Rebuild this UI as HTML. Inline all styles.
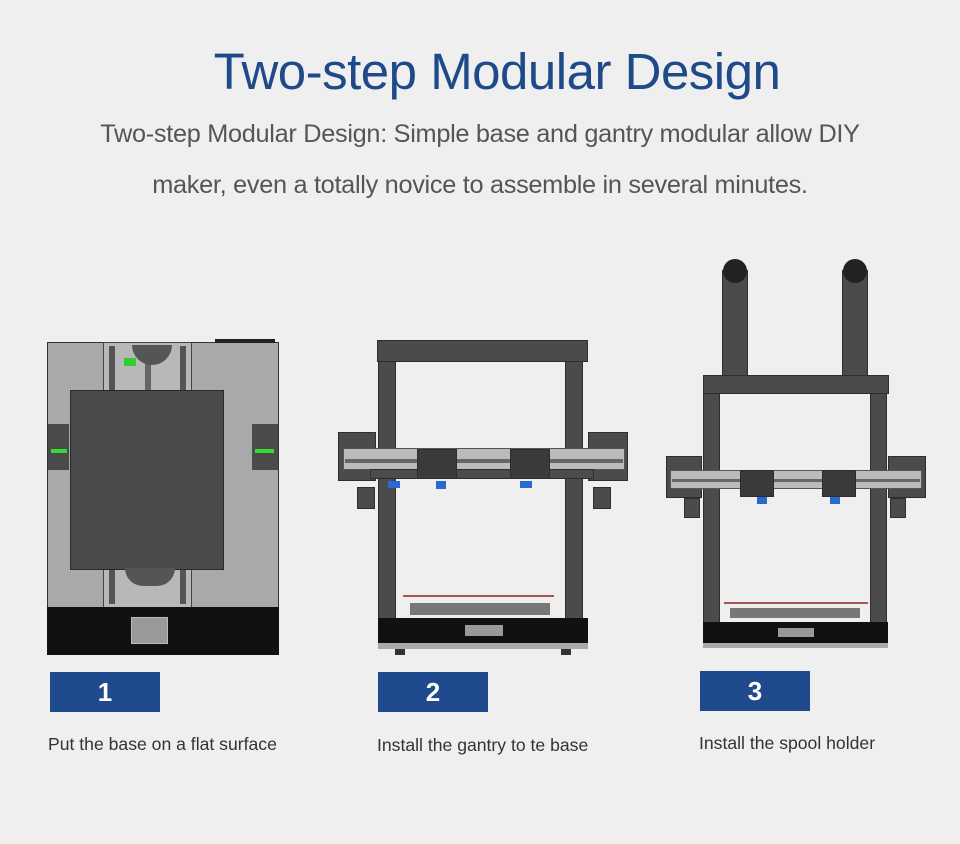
<!DOCTYPE html>
<html><head><style>
body{margin:0;width:960px;height:844px;background:#efefef;position:relative;overflow:hidden;font-family:"Liberation Sans",sans-serif}
div{position:absolute;box-sizing:border-box}
.t{white-space:nowrap}
.bx{background:#1f4b8e;color:#fff;font-weight:bold;font-size:26px;text-align:center;line-height:40px;width:110px;height:40px}
.cap{color:#333;font-size:17.6px}
.dk{background:#4b4b4b;border:1px solid #2e2e2e}
</style></head><body>
<div class="t" style="left:0;width:994px;top:42px;text-align:center;font-size:51px;color:#1e4a8a;letter-spacing:-0.5px">Two-step Modular Design</div>
<div class="t" style="left:0;width:960px;top:120px;text-align:center;font-size:25.3px;color:#555;letter-spacing:-0.3px">Two-step Modular Design: Simple base and gantry modular allow DIY</div>
<div class="t" style="left:0;width:960px;top:171px;text-align:center;font-size:25.3px;color:#555;letter-spacing:-0.3px">maker, even a totally novice to assemble in several minutes.</div>

<!-- printer 1 -->
<div style="left:47px;top:342px;width:232px;height:266px;background:#a9a9a9;border:1px solid #333"></div>
<div style="left:103px;top:342px;width:89px;height:266px;background:#b8b8b8;border:1px solid #444"></div>
<div style="left:109px;top:346px;width:6px;height:258px;background:#555"></div>
<div style="left:180px;top:346px;width:6px;height:258px;background:#555"></div>
<div style="left:145px;top:346px;width:6px;height:60px;background:#666"></div>
<div style="left:132px;top:345px;width:40px;height:20px;background:#555;border-radius:0 0 20px 20px"></div>
<div style="left:124px;top:358px;width:12px;height:8px;background:#3c3"></div>
<div style="left:70px;top:390px;width:154px;height:180px;background:#4a4a4a;border:1px solid #2a2a2a"></div>
<div style="left:125px;top:568px;width:50px;height:18px;background:#555;border-radius:0 0 25px 25px"></div>
<div style="left:48px;top:424px;width:21px;height:46px;background:#4a4a4a"></div>
<div style="left:51px;top:449px;width:16px;height:4px;background:#3d3"></div>
<div style="left:252px;top:424px;width:26px;height:46px;background:#4a4a4a"></div>
<div style="left:255px;top:449px;width:19px;height:4px;background:#3d3"></div>
<div style="left:47px;top:607px;width:232px;height:48px;background:#111"></div>
<div style="left:131px;top:617px;width:37px;height:27px;background:#999;border:1px solid #bbb"></div>
<div style="left:215px;top:339px;width:60px;height:4px;background:#222"></div>

<!-- printer 2 -->
<div class="dk" style="left:377px;top:340px;width:211px;height:22px"></div>
<div class="dk" style="left:378px;top:361px;width:18px;height:258px"></div>
<div class="dk" style="left:565px;top:361px;width:18px;height:258px"></div>
<div class="dk" style="left:338px;top:432px;width:38px;height:49px"></div>
<div class="dk" style="left:588px;top:432px;width:40px;height:49px"></div>
<div style="left:343px;top:448px;width:282px;height:22px;background:#bbb;border:1px solid #555"></div>
<div style="left:345px;top:459px;width:278px;height:4px;background:#666"></div>
<div class="dk" style="left:370px;top:469px;width:224px;height:10px"></div>
<div class="dk" style="left:417px;top:449px;width:40px;height:30px;background:#3a3a3a"></div>
<div class="dk" style="left:510px;top:449px;width:40px;height:30px;background:#3a3a3a"></div>
<div style="left:388px;top:481px;width:12px;height:7px;background:#2a6ad0"></div>
<div style="left:520px;top:481px;width:12px;height:7px;background:#2a6ad0"></div>
<div class="dk" style="left:357px;top:487px;width:18px;height:22px"></div>
<div class="dk" style="left:593px;top:487px;width:18px;height:22px"></div>
<div style="left:436px;top:481px;width:10px;height:8px;background:#2a6ad0"></div>
<div style="left:403px;top:595px;width:151px;height:2px;background:#a55"></div>
<div style="left:410px;top:603px;width:140px;height:12px;background:#777"></div>
<div style="left:378px;top:618px;width:210px;height:25px;background:#111"></div>
<div style="left:465px;top:625px;width:38px;height:11px;background:#999"></div>
<div style="left:378px;top:643px;width:210px;height:6px;background:#aaa"></div>
<div style="left:395px;top:649px;width:10px;height:6px;background:#333"></div>
<div style="left:561px;top:649px;width:10px;height:6px;background:#333"></div>

<!-- printer 3 -->
<div class="dk" style="left:722px;top:270px;width:26px;height:106px"></div>
<div class="dk" style="left:842px;top:270px;width:26px;height:106px"></div>
<div style="left:723px;top:259px;width:24px;height:24px;border-radius:50%;background:#222"></div>
<div style="left:843px;top:259px;width:24px;height:24px;border-radius:50%;background:#222"></div>
<div class="dk" style="left:703px;top:375px;width:186px;height:19px"></div>
<div class="dk" style="left:703px;top:393px;width:17px;height:230px"></div>
<div class="dk" style="left:870px;top:393px;width:17px;height:230px"></div>
<div class="dk" style="left:666px;top:456px;width:36px;height:42px"></div>
<div class="dk" style="left:888px;top:456px;width:38px;height:42px"></div>
<div style="left:670px;top:470px;width:252px;height:19px;background:#bbb;border:1px solid #555"></div>
<div style="left:672px;top:479px;width:248px;height:3px;background:#666"></div>
<div class="dk" style="left:740px;top:470px;width:34px;height:27px;background:#3a3a3a"></div>
<div class="dk" style="left:822px;top:470px;width:34px;height:27px;background:#3a3a3a"></div>
<div style="left:757px;top:497px;width:10px;height:7px;background:#2a6ad0"></div>
<div style="left:830px;top:497px;width:10px;height:7px;background:#2a6ad0"></div>
<div class="dk" style="left:684px;top:498px;width:16px;height:20px"></div>
<div class="dk" style="left:890px;top:498px;width:16px;height:20px"></div>
<div style="left:724px;top:602px;width:144px;height:2px;background:#a55"></div>
<div style="left:730px;top:608px;width:130px;height:10px;background:#777"></div>
<div style="left:703px;top:622px;width:185px;height:21px;background:#111"></div>
<div style="left:778px;top:628px;width:36px;height:9px;background:#999"></div>
<div style="left:703px;top:643px;width:185px;height:5px;background:#aaa"></div>

<div class="bx" style="left:50px;top:672px">1</div>
<div class="bx" style="left:378px;top:672px">2</div>
<div class="bx" style="left:700px;top:671px">3</div>
<div class="t cap" style="left:48px;top:734px">Put the base on a flat surface</div>
<div class="t cap" style="left:377px;top:735px">Install the gantry to te base</div>
<div class="t cap" style="left:699px;top:733px">Install the spool holder</div>
</body></html>
